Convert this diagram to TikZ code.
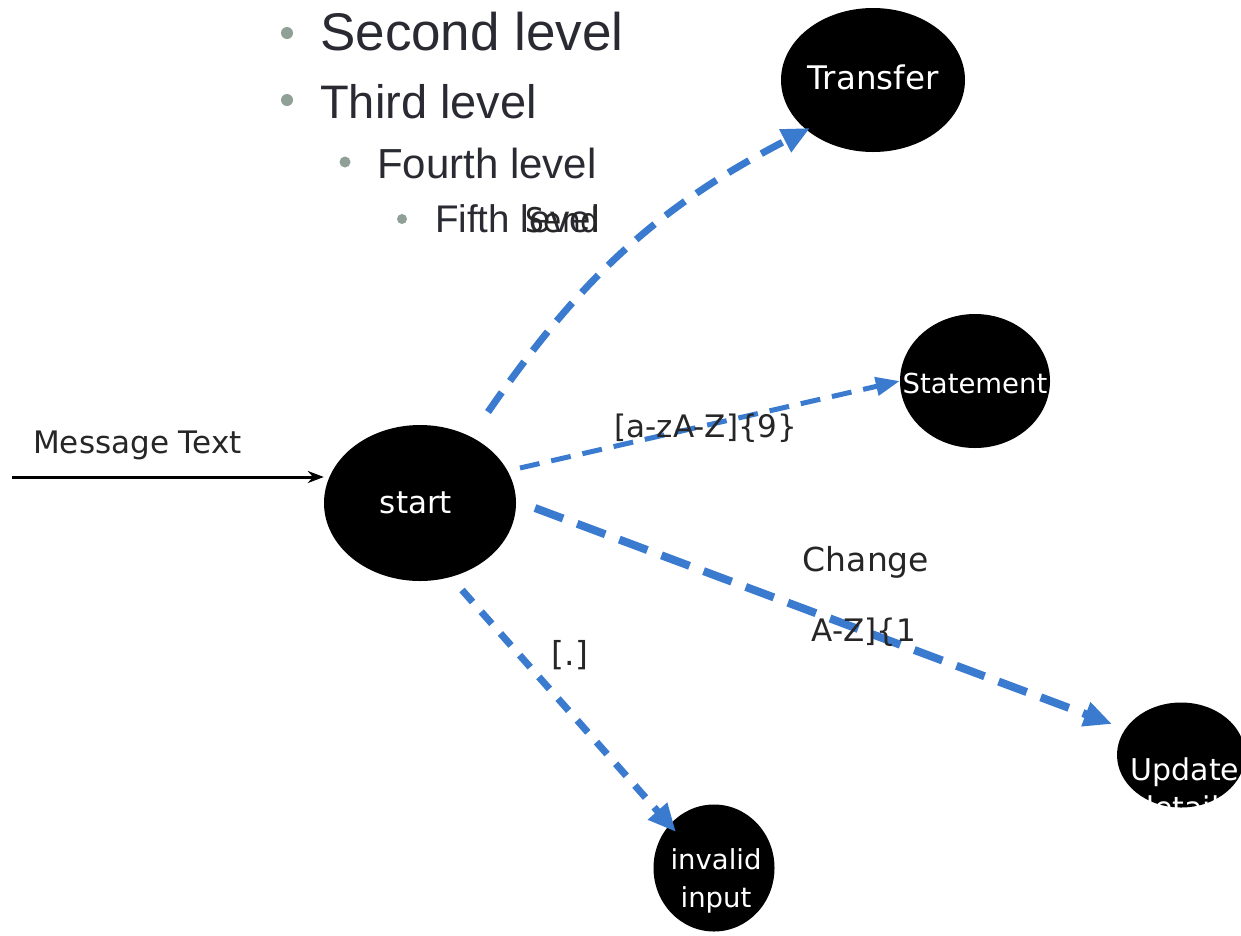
\documentclass[tikz,border=0pt]{standalone}
\usepackage{fontspec}
\setmainfont{Liberation Sans}
\newfontfamily\gfont{DejaVu Sans}
\usetikzlibrary{arrows.meta,shapes.geometric}
\definecolor{bul}{HTML}{8FA096}
\definecolor{txt}{HTML}{2A2A33}
\definecolor{flow}{HTML}{3A7BD0}
\tikzset{
  state/.style={ellipse,fill=black,inner sep=0pt},
  stext/.style={inner sep=0pt,text=white,font=\gfont,align=center},
  bullet/.style={circle,fill=bul,inner sep=0pt,minimum size=12pt},
  lvl/.style={anchor=base west,inner sep=0pt,text=txt},
  flowarrow/.style={draw=flow,line width=7pt,dash pattern=on 24pt off 14pt,
    -{Triangle[length=28pt,width=24pt]}},
  lbl/.style={inner sep=0pt,text=black!85,font=\gfont\fontsize{31}{36}\selectfont}
}
\begin{document}
\begin{tikzpicture}[x=1pt,y=-1pt]
\useasboundingbox[fill=white] (0,0) rectangle (1241,935);
% bullet list
\node[bullet] (b2) at (287,33) {};
\node[lvl,font=\fontsize{53}{60}\selectfont] (t2) at (320,50) {Second level};
\node[bullet] (b3) at (287,100) {};
\node[lvl,font=\fontsize{47}{54}\selectfont] (t3) at (320,118) {Third level};
\node[bullet,minimum size=11pt] (b4) at (345,162) {};
\node[lvl,font=\fontsize{42}{48}\selectfont] (t4) at (377,178) {Fourth level};
\node[bullet,minimum size=10pt] (b5) at (402,219) {};
\node[lvl,font=\fontsize{38.5}{44}\selectfont] (t5) at (435,232) {Fifth level};
% states
\node[state,minimum width=184pt,minimum height=144pt] (transfer) at (873,80) {};
\node[stext,font=\gfont\fontsize{32.5}{38}\selectfont] (transferl) at (873,77) {Transfer};
\node[state,minimum width=150pt,minimum height=134pt] (statement) at (975,381) {};
\node[stext,font=\gfont\fontsize{27.5}{32}\selectfont] (statementl) at (975,383) {Statement};
\node[state,minimum width=192pt,minimum height=156pt] (start) at (420,503) {};
\node[stext,font=\gfont\fontsize{31}{36}\selectfont] (startl) at (416,503) {start};
\node[state,minimum width=128pt,minimum height=105pt] (update) at (1181,755) {};
\node[stext,font=\gfont\fontsize{30}{36}\selectfont,anchor=base] (updatel) at (1185,780) {Update};
\node[stext,font=\gfont\fontsize{30}{36}\selectfont,anchor=base] (detailsl) at (1185,818) {details};
% cover the hidden second line of Update details
\fill[white] (1090,810) rectangle (1241,870);
\node[state,minimum width=121pt,minimum height=127pt] (invalid) at (714,868) {};
\node[stext,font=\gfont\fontsize{27.5}{38}\selectfont] (invalidl) at (716,881) {invalid\\input};
% input
\coordinate (in) at (12,477);
\node[lbl,anchor=west] (msg) at (33,445) {Message Text};
\draw[line width=3pt,-{Stealth[length=16pt,width=12pt]}] (in) -- (start.west |- in);
% transitions
\coordinate (s1) at (488,412);
\coordinate (e1) at (810,128);
\draw[flowarrow] (s1) to[bend left=14] (e1);
\node[inner sep=0pt,anchor=base west,text=black!85] (send) at (525,232)
  {\scalebox{0.87}[1]{\gfont\fontsize{34}{40}\selectfont Send}};
\coordinate (s2) at (520,468);
\draw[flowarrow,line width=5pt,dash pattern=on 20pt off 12pt,-{Triangle[length=24pt,width=18pt]}] (s2) -- (statement.west);
\node[lbl] (l2) at (706,428) {[a-zA-Z]\{9\}};
\coordinate (s3) at (535,508);
\coordinate (e3) at (1112,724);
\draw[flowarrow,line width=8pt,dash pattern=on 30pt off 15pt] (s3) -- (e3);
\node[lbl,font=\gfont\fontsize{33}{38}\selectfont] (l3) at (866,562) {Change};
\node[lbl] (l3b) at (864,632) {A-Z]\{1};
\coordinate (s4) at (462,590);
\coordinate (e4) at (676,832);
\draw[flowarrow,dash pattern=on 16pt off 13pt] (s4) -- (e4);
\node[lbl,font=\gfont\fontsize{33}{38}\selectfont] (l4) at (570,655) {[.]};
\end{tikzpicture}
\end{document}
